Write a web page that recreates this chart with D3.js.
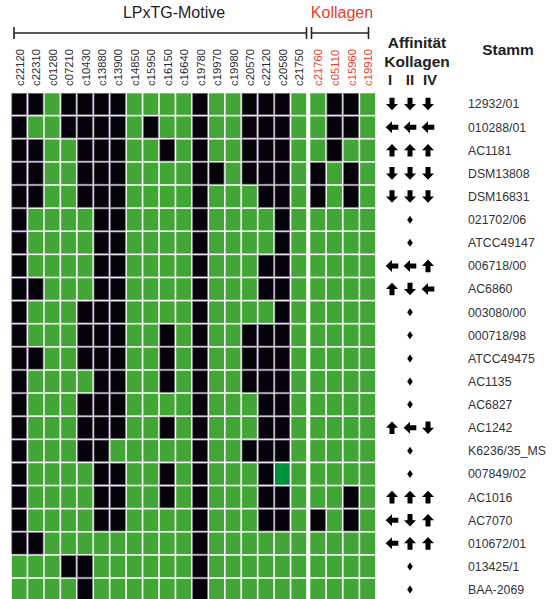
<!DOCTYPE html>
<html>
<head>
<meta charset="utf-8">
<script src="https://cdn.jsdelivr.net/npm/d3@7"></script>
<style>
  html, body { margin: 0; padding: 0; background: #fff; }
  svg { display: block; font-family: "Liberation Sans", Arial, sans-serif; }
</style>
</head>
<body>
<svg id="chart" width="558" height="599"></svg>
<script>
// Genes with LPxTG motif and collagen-binding genes (column headers)
const lpxtgGenes = ["c22120", "c22310", "c01280", "c07210", "c10430", "c13880", "c13900",
  "c14850", "c15950", "c16150", "c16640", "c19780", "c19970", "c19980", "c20570",
  "c22120", "c20580", "c21750"];
const kollagenGenes = ["c21760", "c05110", "c15960", "c19910"];

// Strains (rows)
const strains = ["12932/01", "010288/01", "AC1181", "DSM13808", "DSM16831", "021702/06",
  "ATCC49147", "006718/00", "AC6860", "003080/00", "000718/98", "ATCC49475", "AC1135",
  "AC6827", "AC1242", "K6236/35_MS", "007849/02", "AC1016", "AC7070", "010672/01",
  "013425/1", "BAA-2069"];

// Cell states: 1 = black, 0 = green, 2 = dark green
const lpxtgMatrix = [
  [1,1,0,1,1,1,1,0,0,0,0,1,0,0,1,1,1,0],
  [1,0,0,1,1,1,1,0,1,0,0,1,0,0,1,1,1,0],
  [1,1,0,0,1,1,1,0,0,1,0,1,0,0,1,1,1,0],
  [1,1,0,0,1,1,1,0,0,0,0,1,1,0,1,1,1,0],
  [1,1,0,0,1,1,1,0,0,0,0,1,0,0,0,1,1,0],
  [1,0,0,0,0,1,1,0,0,0,0,1,0,0,0,0,1,0],
  [1,0,0,0,0,1,1,0,0,0,0,1,0,0,0,0,1,0],
  [1,0,0,0,0,1,1,0,0,0,0,1,0,0,0,1,1,0],
  [1,1,0,0,0,1,1,0,0,0,0,1,0,0,0,1,1,0],
  [1,0,0,0,1,1,1,0,0,0,0,1,0,0,0,0,1,0],
  [1,0,0,0,1,1,1,0,0,1,0,1,0,0,1,1,1,0],
  [1,1,0,0,1,1,1,0,0,1,0,1,0,0,1,1,1,0],
  [1,0,0,0,0,1,1,0,0,1,0,1,0,0,1,1,1,0],
  [1,0,0,0,1,1,1,0,0,0,0,1,0,0,0,1,1,0],
  [1,0,0,0,1,1,1,0,0,1,0,1,0,0,0,1,1,0],
  [1,0,0,0,1,1,0,0,0,0,0,1,0,0,1,1,1,0],
  [1,0,0,0,0,1,1,0,0,1,0,1,0,0,0,1,2,0],
  [1,0,0,0,0,1,1,0,0,1,0,1,0,0,0,1,1,0],
  [1,0,0,0,0,1,1,0,0,0,0,1,0,0,0,1,1,0],
  [1,1,0,0,0,0,0,0,0,0,0,1,0,0,0,0,0,0],
  [0,0,0,1,1,0,0,0,0,0,0,1,0,0,0,0,0,0],
  [0,0,0,0,1,0,0,0,0,0,0,1,0,0,0,0,0,0]
];
const kollagenMatrix = [
  [0,1,1,0],
  [0,1,1,0],
  [0,1,0,0],
  [1,0,1,0],
  [1,0,1,0],
  [0,0,0,0],
  [0,0,0,0],
  [0,0,0,0],
  [0,0,0,0],
  [0,0,0,0],
  [0,0,0,0],
  [0,0,0,0],
  [0,0,0,0],
  [0,0,0,0],
  [0,0,0,0],
  [0,0,0,0],
  [0,0,0,0],
  [0,0,1,0],
  [1,0,1,0],
  [0,0,0,0],
  [0,0,0,0],
  [0,0,0,0]
];

// Collagen affinity for collagen types I, II, IV (null = no change, drawn as a diamond)
const collagenTypes = ["I", "II", "IV"];
const affinity = [
  ["down", "down", "down"],
  ["left", "left", "left"],
  ["up", "up", "up"],
  ["down", "down", "down"],
  ["down", "down", "down"],
  null,
  null,
  ["left", "left", "up"],
  ["up", "down", "left"],
  null,
  null,
  null,
  null,
  null,
  ["up", "left", "down"],
  null,
  null,
  ["up", "up", "up"],
  ["left", "down", "up"],
  ["left", "up", "up"],
  null,
  null
];

const colors = { 0: "#41a635", 1: "#06020a", 2: "#00913f" };
const red = "#e8402c";
const ink = "#222";

const svg = d3.select("#chart");

// Scales
const y = d3.scaleBand().domain(d3.range(strains.length)).range([92.5, 92.5 + 22 * 23.12]);
const xL = d3.scaleBand().domain(d3.range(lpxtgGenes.length)).range([11, 307]);
const xK = d3.scaleBand().domain(d3.range(kollagenGenes.length)).range([309.5, 376]);
const xA = d3.scalePoint().domain(collagenTypes).range([392, 428]);

const gap = 1.6;

function drawBlock(matrix, xs, cls) {
  const cells = [];
  matrix.forEach((row, r) => row.forEach((v, c) => cells.push({ r, c, v })));
  svg.append("g").attr("class", cls)
    .selectAll("rect").data(cells).join("rect")
    .attr("x", d => xs(d.c) + gap / 2)
    .attr("y", d => y(d.r) + gap / 2)
    .attr("width", xs.bandwidth() - gap)
    .attr("height", y.bandwidth() - gap)
    .attr("fill", d => colors[d.v])
    .attr("stroke", d => d.v === 1 ? "#7b7088" : "none")
    .attr("stroke-width", 0.7);
}
drawBlock(lpxtgMatrix, xL, "lpxtg");
drawBlock(kollagenMatrix, xK, "kollagen");

// Column labels (rotated)
function drawColLabels(genes, xs, color) {
  svg.append("g").selectAll("text").data(genes).join("text")
    .attr("transform", (d, i) => `translate(${xs(i) + xs.bandwidth() / 2 + 0.5},86) rotate(-90)`)
    .attr("dy", "0.36em")
    .attr("font-size", 11.3)
    .attr("fill", color)
    .text(d => d);
}
drawColLabels(lpxtgGenes, xL, "#2a2a30");
drawColLabels(kollagenGenes, xK, red);

// Group brackets
function bracket(x0, x1, yy) {
  const g = svg.append("g").attr("stroke", ink).attr("stroke-width", 1.6);
  g.append("line").attr("x1", x0).attr("x2", x1).attr("y1", yy).attr("y2", yy);
  g.append("line").attr("x1", x0).attr("x2", x0).attr("y1", yy - 6).attr("y2", yy + 6);
  g.append("line").attr("x1", x1).attr("x2", x1).attr("y1", yy - 6).attr("y2", yy + 6);
}
bracket(14, 306.5, 33);
bracket(311.5, 368.5, 33);

svg.append("text").attr("x", 174).attr("y", 18).attr("text-anchor", "middle")
  .attr("font-size", 16).attr("fill", ink).text("LPxTG-Motive");
svg.append("text").attr("x", 342).attr("y", 18).attr("text-anchor", "middle")
  .attr("font-size", 16).attr("fill", red).text("Kollagen");

// Affinity header
svg.append("text").attr("x", 417).attr("y", 48).attr("text-anchor", "middle")
  .attr("font-size", 15.5).attr("font-weight", "bold").attr("fill", ink).text("Affinität");
svg.append("text").attr("x", 417).attr("y", 66.5).attr("text-anchor", "middle")
  .attr("font-size", 15.5).attr("font-weight", "bold").attr("fill", ink).text("Kollagen");
svg.append("g").selectAll("text").data(collagenTypes).join("text")
  .attr("x", d => xA(d) + (d === "I" ? -2 : d === "IV" ? 2 : 0))
  .attr("y", 85)
  .attr("text-anchor", "middle")
  .attr("font-size", 15).attr("font-weight", "bold").attr("fill", ink)
  .text(d => d);

svg.append("text").attr("x", 508).attr("y", 55).attr("text-anchor", "middle")
  .attr("font-size", 15.5).attr("font-weight", "bold").attr("fill", ink).text("Stamm");

// Affinity arrows
const arrowPath = "M0,-6.3 L6,0 L2.5,0 L2.5,6.3 L-2.5,6.3 L-2.5,0 L-6,0 Z";
const rot = { up: 0, right: 90, down: 180, left: -90 };
const arrows = [];
affinity.forEach((a, r) => {
  if (a) a.forEach((dir, k) => arrows.push({ r, t: collagenTypes[k], dir }));
});
svg.append("g").selectAll("path").data(arrows).join("path")
  .attr("d", arrowPath)
  .attr("transform", d => `translate(${xA(d.t)},${y(d.r) + y.bandwidth() / 2}) rotate(${rot[d.dir]})`)
  .attr("fill", "#000");

// Diamonds for unchanged affinity
const unchanged = affinity.map((a, r) => a ? null : r).filter(r => r !== null);
svg.append("g").selectAll("path").data(unchanged).join("path")
  .attr("d", "M0,-4 L2.8,0 L0,4 L-2.8,0 Z")
  .attr("transform", r => `translate(${xA("II")},${y(r) + y.bandwidth() / 2})`)
  .attr("fill", "#000");

// Strain labels
svg.append("g").selectAll("text").data(strains).join("text")
  .attr("x", 468)
  .attr("y", (d, i) => y(i) + y.bandwidth() / 2)
  .attr("dy", "0.36em")
  .attr("font-size", 12.3)
  .attr("fill", "#333")
  .text(d => d);
</script>
</body>
</html>
